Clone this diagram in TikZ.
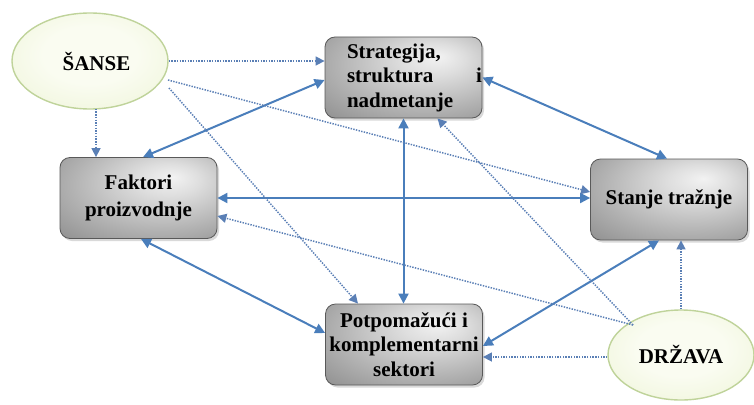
\documentclass[tikz,border=0pt]{standalone}
\usepackage{fontspec}
\setmainfont{Liberation Serif}
\usetikzlibrary{arrows.meta,calc,shapes.geometric,shadows}

% grey box fill: light spot towards the upper right, darker towards the edges
\pgfdeclareradialshading{boxshade}{\pgfpoint{11bp}{13bp}}{%
  color(0bp)=(black!5); color(10bp)=(black!13); color(28bp)=(black!30); color(50bp)=(black!50); color(75bp)=(black!58)}
% pale green ellipse fill
\definecolor{ovalin}{HTML}{FAFCF1}
\definecolor{ovalmid}{HTML}{EFF5DA}
\definecolor{ovalout}{HTML}{DAE7B3}
\pgfdeclareradialshading{ovalshade}{\pgfpoint{0bp}{4bp}}{%
  color(0bp)=(ovalin); color(15bp)=(ovalin); color(35bp)=(ovalmid); color(52bp)=(ovalout); color(75bp)=(ovalout)}

\definecolor{linkblue}{HTML}{4A7EBB}
\definecolor{dotblue}{HTML}{5A7FB5}
\definecolor{ovaledge}{HTML}{BFD39A}

\tikzset{
  txt/.style={font=\bfseries\fontsize{21}{24.5}\selectfont, text=black},
  factorbox/.style={txt, draw=gray!70!black, line width=0.8pt, rounded corners=10pt,
    shading=boxshade, minimum width=157pt, minimum height=81pt, inner sep=0pt, align=center,
    drop shadow={shadow xshift=2pt, shadow yshift=-2.5pt, opacity=0.3, fill=gray}},
  oval/.style={txt, ellipse, draw=ovaledge, line width=1.4pt, shading=ovalshade,
    minimum width=156pt, minimum height=96pt, inner sep=0pt},
  mutual/.style={draw=linkblue, line width=2pt, {Triangle[length=10pt,width=10pt]}-{Triangle[length=10pt,width=10pt]}},
  influence/.style={draw=dotblue, line width=1.5pt, dash pattern=on 1.4pt off 1.3pt, -{Triangle[length=9pt,width=9pt]}}
}

\begin{document}
\begin{tikzpicture}[x=1pt,y=-1pt]
  \useasboundingbox (0,0) rectangle (754,404);

  % the four determinants of the diamond
  \node[factorbox, text width=157pt, align=left] (strat) at (403.5,77.5)
    {\hspace*{22pt}Strategija,\\ \hspace*{22pt}struktura\hfill i\hspace*{-4pt}\\ \hspace*{22pt}nadmetanje};
  \node[factorbox] (fak) at (138.5,198) {Faktori\\[2pt]proizvodnje};
  \node[factorbox] (stanje) at (669,199.5) {Stanje tražnje};
  \node[factorbox] (pot) at (404,344.5) {Potpomažući i\\komplementarni\\sektori};

  % the two external factors
  \node[oval] (sanse) at (90,61) {\hspace*{13pt}ŠANSE};
  \node[oval, minimum width=146pt, minimum height=90pt] (drzava) at (681,355) {DRŽAVA};

  % mutual links between the determinants
  \draw[mutual] ($(fak.north)+(4.5,0)$) -- ($(strat.west)+(0,2.5)$);
  \draw[mutual] (strat.east) -- ($(stanje.north)+(-2,0)$);
  \draw[mutual] (fak.east) -- (stanje.west |- fak.east);
  \draw[mutual] (strat.south) -- (strat.south |- pot.north);
  \draw[mutual] ($(fak.south)+(2.5,0)$) -- ($(pot.west)+(0,-11.5)$);
  \draw[mutual] ($(stanje.south)+(-10,0)$) -- ($(pot.east)+(0,1.5)$);

  % influence of chance
  \draw[influence] (sanse.east) -- (sanse.east -| strat.west);
  \draw[influence] ($(sanse.south)+(6,-1)$) -- ($(fak.north)+(-42.5,0)$);
  \draw[influence] ($(sanse.center)+(78,19)$) -- ($(stanje.west)+(0,-7.5)$);
  \draw[influence] ($(sanse.center)+(79,27)$) -- ($(pot.north)+(-46,0)$);

  % influence of the state
  \draw[influence] ($(drzava.center)+(-48,-30)$) -- ($(strat.south)+(34,0)$);
  \draw[influence] ($(drzava.center)+(-48,-30)$) -- ($(fak.east)+(0,18)$);
  \draw[influence] ($(drzava.west)+(0,2)$) -- ($(pot.east)+(0,12.5)$);
  \draw[influence] (drzava.north) -- (drzava.north |- stanje.south);
\end{tikzpicture}
\end{document}
